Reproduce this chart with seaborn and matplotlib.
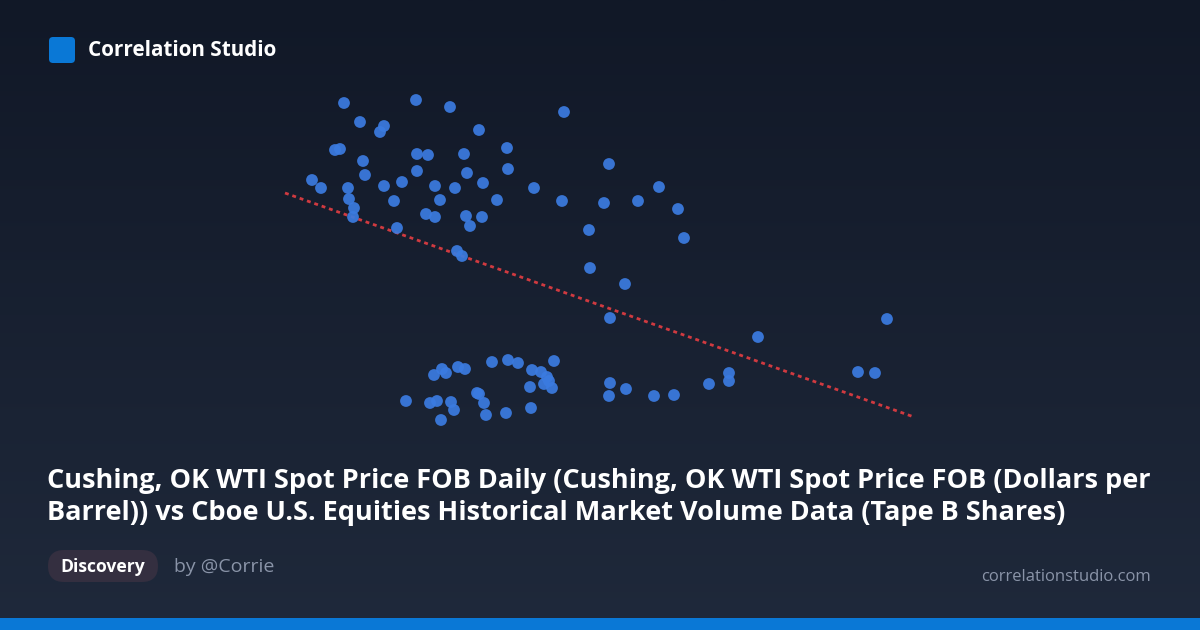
import numpy as np
import pandas as pd
import matplotlib
matplotlib.use("Agg")
import matplotlib.pyplot as plt
from matplotlib.patches import FancyBboxPatch
import seaborn as sns

# ---- data (in chart units) ----
x_vals = [344, 416, 450, 564, 360, 384, 380, 479, 335, 340, 417, 428, 464, 507,
          363, 417, 467, 508, 312, 321, 365, 348, 384, 402, 435, 455, 483, 534,
          349, 394, 440, 497, 562, 354, 353, 426, 435, 466, 482, 470, 397, 589,
          457, 462, 609, 604, 638, 659, 678, 684, 590, 625, 610, 887, 758, 729,
          858, 875, 610, 626, 709, 729, 609, 654, 674, 406, 434, 442, 446, 458,
          465, 492, 508, 518, 532, 541, 547, 549, 544, 552, 554, 530, 430, 437,
          451, 454, 441, 477, 479, 484, 486, 506, 531]
y_vals = [103, 100, 107, 112, 122, 126, 132, 130, 150, 149, 154, 155, 154, 148,
          161, 171, 173, 169, 180, 188, 175, 188, 186, 182, 186, 188, 183, 188,
          199, 201, 200, 200, 201, 208, 217, 214, 217, 216, 217, 226, 228, 230,
          251, 256, 164, 203, 201, 187, 209, 238, 268, 284, 318, 319, 337, 373,
          372, 373, 383, 389, 384, 381, 396, 396, 395, 401, 375, 369, 373, 367,
          369, 362, 360, 363, 370, 372, 377, 381, 384, 388, 361, 387, 403, 401,
          402, 410, 420, 393, 394, 403, 415, 413, 408]
trend_x = [285, 914]
trend_y = [193, 417]

title_lines = [
    "Cushing, OK WTI Spot Price FOB Daily (Cushing, OK WTI Spot Price FOB (Dollars per",
    "Barrel)) vs Cboe U.S. Equities Historical Market Volume Data (Tape B Shares)",
]
brand = "Correlation Studio"
badge = "Discovery"
author = "by @Corrie"
site = "correlationstudio.com"

W, H = 1200, 630
sns.set_theme(style="white")
plt.rcParams["font.family"] = ["Open Sans", "DejaVu Sans"]

fig = plt.figure(figsize=(W / 100, H / 100), dpi=100)

# background gradient
bg = fig.add_axes([0, 0, 1, 1])
grad = np.linspace(0, 1, 256)[:, None]
top = np.array([17, 24, 39]) / 255
bot = np.array([31, 41, 59]) / 255
img = top[None, None, :] * (1 - grad[..., None]) + bot[None, None, :] * grad[..., None]
bg.imshow(img, aspect="auto", extent=[0, W, H, 0])
bg.set_xlim(0, W)
bg.set_ylim(H, 0)
bg.axis("off")

# scatter axes in pixel units
ax = fig.add_axes([0, 0, 1, 1])
ax.patch.set_alpha(0)
df = pd.DataFrame({"x": x_vals, "y": y_vals})
sns.scatterplot(data=df, x="x", y="y", ax=ax, s=72, color="#3b7be0",
                alpha=0.93, edgecolor="none", linewidth=0, zorder=3)
tdf = pd.DataFrame({"x": trend_x, "y": trend_y})
sns.lineplot(data=tdf, x="x", y="y", ax=ax, color="#d03a40", linewidth=2,
             linestyle=(0, (1.4, 1.4)), zorder=2)
ax.set_xlim(0, W)
ax.set_ylim(H, 0)
ax.axis("off")

# header logo + brand
ax.add_patch(FancyBboxPatch((49, 37), 26, 26, boxstyle="round,pad=0,rounding_size=4",
                            facecolor="#0a78d6", edgecolor="none", zorder=4))
ax.text(88, 51, brand, color="white", fontsize=14.9, fontweight="bold",
        va="center", ha="left", zorder=5)

# title
ax.text(47, 481, title_lines[0], color="white", fontsize=19.5, fontweight="bold",
        va="center", ha="left")
ax.text(47, 513, title_lines[1], color="white", fontsize=19.5, fontweight="bold",
        va="center", ha="left")

# badge
ax.add_patch(FancyBboxPatch((48, 550), 110, 32, boxstyle="round,pad=0,rounding_size=16",
                            facecolor="#342f40", edgecolor="none", zorder=4))
ax.text(103, 567, badge, color="white", fontsize=12.6, fontweight="bold",
        va="center", ha="center", zorder=5)
ax.text(174, 567, author, color="#8a94a8", fontsize=14, va="center", ha="left")
ax.text(1151, 577, site, color="#8a94a8", fontsize=12.0, va="center", ha="right")

# bottom bar
ax.add_patch(plt.Rectangle((0, 618), W, 12, facecolor="#0a78d6", edgecolor="none",
                           zorder=4))

fig.savefig("out.png", dpi=100)
